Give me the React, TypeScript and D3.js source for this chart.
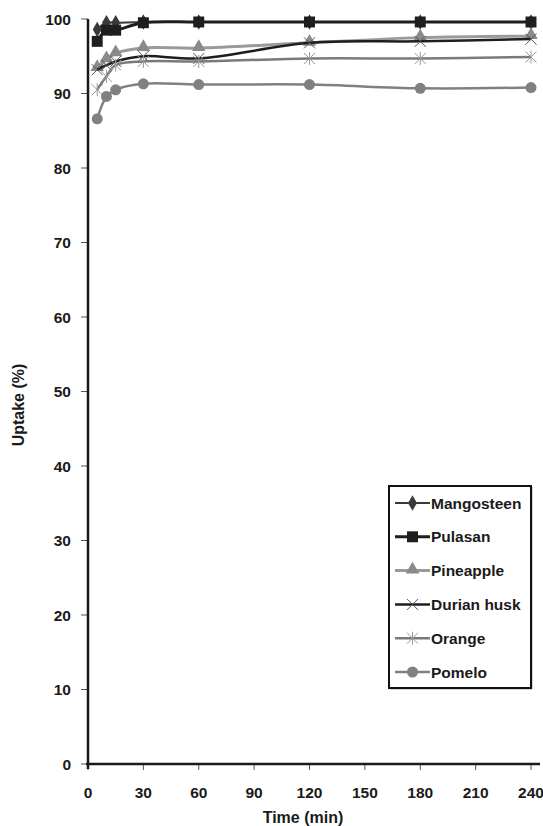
import React from "react";
import * as d3 from "d3";

const times = [5, 10, 15, 30, 60, 120, 180, 240];
const mangosteen = [98.6, 99.5, 99.5, 99.6, 99.6, 99.6, 99.6, 99.6];
const pulasan = [97.0, 98.5, 98.5, 99.5, 99.6, 99.6, 99.6, 99.6];
const pineapple = [93.4, 94.6, 95.4, 96.1, 96.1, 96.8, 97.5, 97.7];
const durian = [93.2, 93.8, 94.3, 95.0, 94.7, 96.8, 97.0, 97.3];
const orange = [90.5, 92.3, 93.8, 94.3, 94.3, 94.7, 94.7, 94.9];
const pomelo = [86.6, 89.6, 90.5, 91.3, 91.2, 91.2, 90.7, 90.8];

const xTicks = [0, 30, 60, 90, 120, 150, 180, 210, 240];
const yTicks = [0, 10, 20, 30, 40, 50, 60, 70, 80, 90, 100];

type Series = { name: string; values: number[]; color: string; width: number; marker: string; mcolor: string };
const series: Series[] = [
  { name: "Mangosteen", values: mangosteen, color: "#3a3a3a", width: 2, marker: "diamond", mcolor: "#3a3a3a" },
  { name: "Pulasan", values: pulasan, color: "#1e1e1e", width: 3, marker: "square", mcolor: "#1e1e1e" },
  { name: "Pineapple", values: pineapple, color: "#9a9a9a", width: 3, marker: "triangle", mcolor: "#8a8a8a" },
  { name: "Durian husk", values: durian, color: "#1e1e1e", width: 2.5, marker: "x", mcolor: "#555" },
  { name: "Orange", values: orange, color: "#7a7a7a", width: 2.5, marker: "star", mcolor: "#9a9a9a" },
  { name: "Pomelo", values: pomelo, color: "#808080", width: 2.5, marker: "circle", mcolor: "#808080" },
];

const FONT = "'Liberation Sans', Arial, Helvetica, sans-serif";

function Marker({ type, x, y, color }: { type: string; x: number; y: number; color: string }) {
  if (type === "diamond") {
    return <path d={d3.symbol(d3.symbolDiamond, 70)() || ""} transform={`translate(${x},${y})`} fill={color} />;
  }
  if (type === "square") {
    return <path d={d3.symbol(d3.symbolSquare, 120)() || ""} transform={`translate(${x},${y})`} fill={color} />;
  }
  if (type === "triangle") {
    return <path d={d3.symbol(d3.symbolTriangle, 80)() || ""} transform={`translate(${x},${y - 1})`} fill={color} />;
  }
  if (type === "circle") {
    return <circle cx={x} cy={y} r={5.5} fill={color} />;
  }
  const s = 5.5;
  if (type === "x") {
    return (
      <path
        d={`M${x - s},${y - s}L${x + s},${y + s}M${x - s},${y + s}L${x + s},${y - s}`}
        stroke={color}
        strokeWidth={1}
        fill="none"
      />
    );
  }
  return (
    <path
      d={`M${x - s},${y - s}L${x + s},${y + s}M${x - s},${y + s}L${x + s},${y - s}M${x},${y - s - 1}L${x},${y + s + 1}`}
      stroke={color}
      strokeWidth={1}
      fill="none"
    />
  );
}

export default function App() {
  const W = 543;
  const H = 826;
  const x = d3.scaleLinear().domain([0, 240]).range([88, 531]);
  const y = d3.scaleLinear().domain([0, 100]).range([764, 19]);
  const line = d3
    .line<number>()
    .x((_, i) => x(times[i]))
    .y((v) => y(v))
    .curve(d3.curveCatmullRom.alpha(0.5));

  const legX = 389;
  const legY = 486;
  const legW = 142;
  const legH = 202;
  const rowH = 33.8;

  return (
    <svg width={W} height={H} style={{ position: "absolute", left: 0, top: 0, background: "#fff" }} fontFamily={FONT}>
      {/* y ticks */}
      {yTicks.map((t) => (
        <g key={"y" + t}>
          <line x1={81} x2={88} y1={y(t)} y2={y(t)} stroke="#555" strokeWidth={1} />
          <text x={71} y={y(t)} dy="0.36em" textAnchor="end" fontSize={15.5} fontWeight="bold" fill="#1a1a1a">
            {t}
          </text>
        </g>
      ))}
      {/* x ticks */}
      {xTicks.map((t) => (
        <g key={"x" + t}>
          <line x1={x(t)} x2={x(t)} y1={764} y2={770} stroke="#555" strokeWidth={1} />
          <text x={x(t)} y={798} textAnchor="middle" fontSize={15.5} fontWeight="bold" fill="#1a1a1a">
            {t}
          </text>
        </g>
      ))}
      {/* axes */}
      <line x1={88} x2={88} y1={19} y2={769} stroke="#1a1a1a" strokeWidth={2.5} />
      <line x1={86} x2={540} y1={764} y2={764} stroke="#1a1a1a" strokeWidth={2.5} />
      <text x={303} y={823} textAnchor="middle" fontSize={16} fontWeight="bold" fill="#1a1a1a">
        Time (min)
      </text>
      <text
        transform={`translate(24,${405}) rotate(-90)`}
        textAnchor="middle"
        fontSize={16}
        fontWeight="bold"
        fill="#1a1a1a"
      >
        Uptake (%)
      </text>

      {/* series */}
      {series.map((s) => (
        <g key={s.name}>
          <path d={line(s.values) || ""} fill="none" stroke={s.color} strokeWidth={s.width} />
          {s.values.map((v, i) => (
            <Marker key={i} type={s.marker} x={x(times[i])} y={y(v)} color={s.mcolor} />
          ))}
        </g>
      ))}

      {/* legend */}
      <rect x={legX + 1} y={legY + 1} width={legW} height={legH} fill="none" stroke="#aaa" strokeWidth={1} />
      <rect x={legX} y={legY} width={legW} height={legH} fill="#fff" stroke="#111" strokeWidth={2} />
      {series.map((s, i) => {
        const cy = legY + 17 + i * rowH;
        return (
          <g key={"l" + s.name}>
            <line x1={legX + 6} x2={legX + 41} y1={cy} y2={cy} stroke={s.color} strokeWidth={s.width} />
            <Marker type={s.marker} x={legX + 23.5} y={cy} color={s.mcolor} />
            <text x={legX + 42} y={cy} dy="0.36em" fontSize={15.5} fontWeight="bold" fill="#1a1a1a">
              {s.name}
            </text>
          </g>
        );
      })}
    </svg>
  );
}
